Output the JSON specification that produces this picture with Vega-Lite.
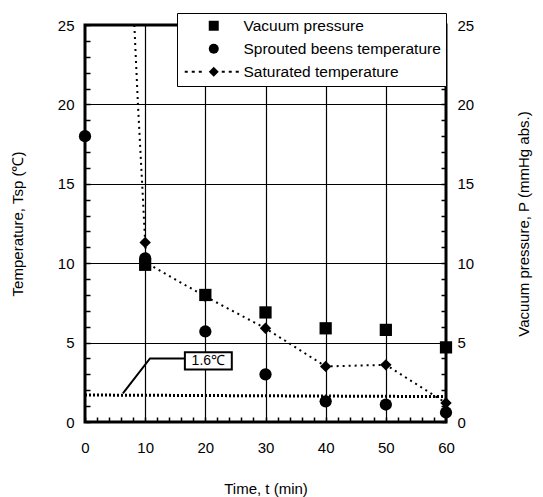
{
  "$schema": "https://vega.github.io/schema/vega-lite/v6.json",
  "width": 361,
  "height": 397,
  "autosize": {"type": "none"},
  "padding": {"left": 85, "top": 25, "right": 97, "bottom": 75},
  "background": "white",
  "config": {
    "view": {"stroke": "black", "strokeWidth": 3},
    "font": "Liberation Sans",
    "axis": {
      "labelFont": "Liberation Sans",
      "titleFont": "Liberation Sans",
      "labelColor": "black",
      "titleColor": "black",
      "labelFontSize": 15,
      "titleFontSize": 15,
      "titleFontWeight": "normal",
      "labelFlush": false,
      "domain": false,
      "ticks": true,
      "tickColor": "black",
      "tickWidth": 1.5,
      "tickSize": -5,
      "labelOverlap": false,
      "gridColor": "black",
      "gridWidth": 1.2
    },
    "legend": {
      "labelFont": "Liberation Sans",
      "labelFontSize": 15.5,
      "labelColor": "black",
      "labelLimit": 400
    }
  },
  "datasets": {
    "pts": [
      {"t": 0, "v": 18.0, "s": "Sprouted beens temperature"},
      {"t": 10, "v": 10.3, "s": "Sprouted beens temperature"},
      {"t": 20, "v": 5.7, "s": "Sprouted beens temperature"},
      {"t": 30, "v": 3.0, "s": "Sprouted beens temperature"},
      {"t": 40, "v": 1.3, "s": "Sprouted beens temperature"},
      {"t": 50, "v": 1.1, "s": "Sprouted beens temperature"},
      {"t": 60, "v": 0.6, "s": "Sprouted beens temperature"},
      {"t": 10, "v": 11.3, "s": "Saturated temperature"},
      {"t": 20, "v": 7.9, "s": "Saturated temperature"},
      {"t": 30, "v": 5.9, "s": "Saturated temperature"},
      {"t": 40, "v": 3.5, "s": "Saturated temperature"},
      {"t": 50, "v": 3.6, "s": "Saturated temperature"},
      {"t": 60, "v": 1.2, "s": "Saturated temperature"},
      {"t": 10, "v": 9.9, "s": "Vacuum pressure"},
      {"t": 20, "v": 8.0, "s": "Vacuum pressure"},
      {"t": 30, "v": 6.9, "s": "Vacuum pressure"},
      {"t": 40, "v": 5.9, "s": "Vacuum pressure"},
      {"t": 50, "v": 5.8, "s": "Vacuum pressure"},
      {"t": 60, "v": 4.7, "s": "Vacuum pressure"}
    ],
    "satline": [
      {"t": 8.2, "v": 25.0},
      {"t": 8.8, "v": 20.0},
      {"t": 9.5, "v": 15.0},
      {"t": 10.0, "v": 11.3},
      {"t": 10.3, "v": 10.0},
      {"t": 20, "v": 7.9},
      {"t": 30, "v": 5.9},
      {"t": 40, "v": 3.5},
      {"t": 50, "v": 3.6},
      {"t": 60, "v": 1.2}
    ],
    "refline": [
      {"t": 0, "v": 1.7},
      {"t": 60, "v": 1.6}
    ],
    "leader": [
      {"t": 6.3, "v": 1.8},
      {"t": 10.8, "v": 4.0},
      {"t": 16.6, "v": 4.0}
    ],
    "labelbox": [
      {"t": 16.6, "t2": 24.4, "v": 3.3, "v2": 4.4, "tc": 20.5, "vc": 3.85, "txt": "1.6℃"}
    ]
  },
  "layer": [
    {
      "encoding": {
        "x": {
          "field": "t",
          "type": "quantitative",
          "scale": {"domain": [0, 60], "nice": false, "zero": false},
          "axis": {
            "values": [0,2,4,6,8,10,12,14,16,18,20,22,24,26,28,30,32,34,36,38,40,42,44,46,48,50,52,54,56,58,60],
            "labelExpr": "datum.value % 10 === 0 ? datum.label : ''",
            "grid": true,
            "gridOpacity": {"condition": {"test": "datum.value % 10 === 0 && datum.value > 0 && datum.value < 60", "value": 1}, "value": 0},
            "labelPadding": 23,
            "title": "Time, t  (min)",
            "titlePadding": 26
          }
        },
        "y": {
          "field": "v",
          "type": "quantitative",
          "scale": {"domain": [0, 25], "nice": false, "zero": false},
          "axis": {
            "values": [0,1,2,3,4,5,6,7,8,9,10,11,12,13,14,15,16,17,18,19,20,21,22,23,24,25],
            "labelExpr": "datum.value % 5 === 0 ? datum.label : ''",
            "grid": true,
            "gridOpacity": {"condition": {"test": "datum.value % 5 === 0 && datum.value > 0 && datum.value < 25", "value": 1}, "value": 0},
            "labelPadding": 16,
            "title": "Temperature, Tsp  (℃)",
            "titlePadding": 32
          }
        }
      },
      "layer": [
        {
          "data": {"name": "refline"},
          "mark": {"type": "line", "color": "black", "strokeWidth": 3, "strokeDash": [2, 2]}
        },
        {
          "data": {"name": "satline"},
          "mark": {"type": "line", "color": "black", "strokeWidth": 2, "strokeDash": [2, 4], "clip": true}
        },
        {
          "data": {"name": "leader"},
          "mark": {"type": "line", "color": "black", "strokeWidth": 2}
        },
        {
          "data": {"name": "labelbox"},
          "mark": {"type": "rect", "fill": "white", "stroke": "black", "strokeWidth": 2},
          "encoding": {
            "x2": {"field": "t2"},
            "y2": {"field": "v2"}
          }
        },
        {
          "data": {"name": "labelbox"},
          "mark": {"type": "text", "fontSize": 14, "color": "black", "font": "Liberation Sans"},
          "encoding": {
            "x": {"field": "tc", "type": "quantitative"},
            "y": {"field": "vc", "type": "quantitative"},
            "text": {"field": "txt"}
          }
        },
        {
          "data": {"name": "pts"},
          "transform": [{"filter": "datum.s === 'Sprouted beens temperature'"}],
          "mark": {"type": "point", "shape": "circle", "filled": true, "color": "black", "size": 150, "opacity": 1}
        },
        {
          "data": {"name": "pts"},
          "transform": [{"filter": "datum.s === 'Saturated temperature'"}],
          "mark": {"type": "point", "shape": "diamond", "filled": true, "color": "black", "size": 130, "opacity": 1}
        },
        {
          "data": {"name": "pts"},
          "mark": {"type": "point", "filled": true, "color": "black", "opacity": 0},
          "encoding": {
            "shape": {
              "field": "s",
              "type": "nominal",
              "scale": {
                "domain": ["Vacuum pressure", "Sprouted beens temperature", "Saturated temperature"],
                "range": ["square", "circle", "M-1,0L0,-1L1,0L0,1Z M-5.8,-0.2h0.6v0.4h-0.6Z M-4.4,-0.2h0.6v0.4h-0.6Z M-3,-0.2h0.6v0.4h-0.6Z M1.6,-0.2h0.6v0.4h-0.6Z M3,-0.2h0.6v0.4h-0.6Z M4.4,-0.2h0.6v0.4h-0.6Z"]
              },
              "legend": {
                "title": null,
                "orient": "none",
                "legendX": 92,
                "legendY": -12,
                "fillColor": "white",
                "strokeColor": "black",
                "padding": 5,
                "symbolSize": 100,
                "symbolFillColor": "black",
                "symbolStrokeColor": "black",
                "symbolOpacity": 1,
                "symbolOffset": 24,
                "labelOffset": 22,
                "rowPadding": 5
              }
            }
          }
        }
      ]
    },
    {
      "data": {"name": "pts"},
      "transform": [{"filter": "datum.s === 'Vacuum pressure'"}],
      "mark": {"type": "point", "shape": "square", "filled": true, "color": "black", "size": 150, "opacity": 1},
      "encoding": {
        "x": {
          "field": "t",
          "type": "quantitative",
          "scale": {"domain": [0, 60], "nice": false, "zero": false},
          "axis": {
            "values": [0,2,4,6,8,10,12,14,16,18,20,22,24,26,28,30,32,34,36,38,40,42,44,46,48,50,52,54,56,58,60],
            "labelExpr": "datum.value % 10 === 0 ? datum.label : ''",
            "grid": true,
            "gridOpacity": {"condition": {"test": "datum.value % 10 === 0 && datum.value > 0 && datum.value < 60", "value": 1}, "value": 0},
            "labelPadding": 23,
            "title": "Time, t  (min)",
            "titlePadding": 26
          }
        },
        "y": {
          "field": "v",
          "type": "quantitative",
          "scale": {"domain": [0, 25], "nice": false, "zero": false},
          "axis": {
            "orient": "right",
            "values": [0,1,2,3,4,5,6,7,8,9,10,11,12,13,14,15,16,17,18,19,20,21,22,23,24,25],
            "labelExpr": "datum.value % 5 === 0 ? datum.label : ''",
            "grid": false,
            "labelPadding": 16,
            "title": "Vacuum pressure, P  (mmHg abs.)",
            "titleAngle": 270,
            "titlePadding": 58
          }
        }
      }
    }
  ],
  "resolve": {"scale": {"y": "independent"}}
}
